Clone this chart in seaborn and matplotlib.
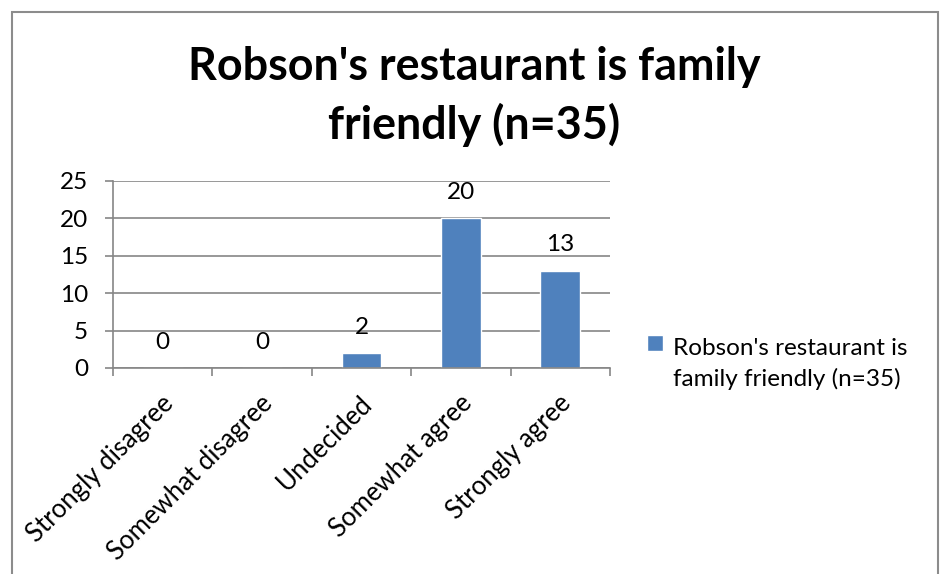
import matplotlib
matplotlib.use("Agg")
import matplotlib.pyplot as plt
import matplotlib.transforms as mtrans
from matplotlib.patches import Rectangle
from matplotlib.legend_handler import HandlerPatch
import pandas as pd
import seaborn as sns

# data
categories = ["Strongly disagree", "Somewhat disagree", "Undecided", "Somewhat agree", "Strongly agree"]
counts = [0, 0, 2, 20, 13]
series_name = "Robson's restaurant is\nfamily friendly (n=35)"
title = "Robson's restaurant is family\nfriendly (n=35)"
y_ticks = [0, 5, 10, 15, 20, 25]

sns.set_style("white")
plt.rcParams["font.family"] = ["Lato", "DejaVu Sans"]
plt.rcParams["text.color"] = "black"
plt.rcParams["xtick.color"] = "black"
plt.rcParams["ytick.color"] = "black"

fs = 17.5
df = pd.DataFrame({"answer": categories, "count": counts, "series": series_name})

fig = plt.figure(figsize=(9.42, 5.74), dpi=100)
ax = fig.add_axes([0.120, 0.3589, 0.5276, 0.3258])

sns.barplot(data=df, x="answer", y="count", hue="series", palette=["#4F81BD"],
            width=0.4, ax=ax, legend=True, saturation=1)

ax.set_ylim(0, 25)
ax.set_xlim(-0.5, 4.5)
ax.set_yticks(y_ticks)
ax.set_xlabel("")
ax.set_ylabel("")
ax.yaxis.grid(True, color="#868686", linewidth=1.2)
ax.set_axisbelow(True)
for s in ["top", "right"]:
    ax.spines[s].set_visible(False)
for s in ["left", "bottom"]:
    ax.spines[s].set_color("#868686")
    ax.spines[s].set_linewidth(1.2)

# ticks between the categories, like Excel does
ax.set_xticks([i - 0.5 for i in range(len(categories) + 1)], minor=True)
ax.tick_params(axis="x", which="minor", length=6, color="#868686", width=1.2, bottom=True)
ax.tick_params(axis="x", which="major", length=0, pad=4)
ax.tick_params(axis="y", length=6, color="#868686", width=1.2, labelsize=fs, pad=12,
               left=True, labelcolor="black")
ax.set_xticks(range(len(categories)))
ax.set_xticklabels(categories, rotation=45, ha="right", rotation_mode="anchor", fontsize=18.5)
for lab in ax.get_xticklabels():
    lab.set_transform(lab.get_transform() + mtrans.ScaledTranslation(-0.02, -0.17, fig.dpi_scale_trans))

for c in ax.containers:
    ax.bar_label(c, fontsize=fs, padding=11)


# legend square sits next to the first line of the wrapped label
def top_square(legend, orig_handle, xdescent, ydescent, width, height, fontsize):
    return Rectangle((-xdescent, -ydescent + fontsize * 0.85), width, height)


leg = ax.legend(loc="upper left", bbox_to_anchor=(1.031, 0.28), frameon=False,
                fontsize=fs, handlelength=0.65, handleheight=0.65, handletextpad=0.4,
                handler_map={matplotlib.patches.Rectangle: HandlerPatch(patch_func=top_square)})
for t in leg.get_texts():
    t.set_linespacing(1.5)

fig.text(0.503, 0.832, title, ha="center", va="center", fontsize=32.3,
         fontweight="bold", linespacing=1.42, color="black")

fig.patches.append(Rectangle((12 / 942, -0.05), 926 / 942, 1.05 - 12 / 574,
                             transform=fig.transFigure, fill=False,
                             edgecolor="#8c8c8c", linewidth=1.5, clip_on=False))

fig.savefig("out.png", dpi=100)
